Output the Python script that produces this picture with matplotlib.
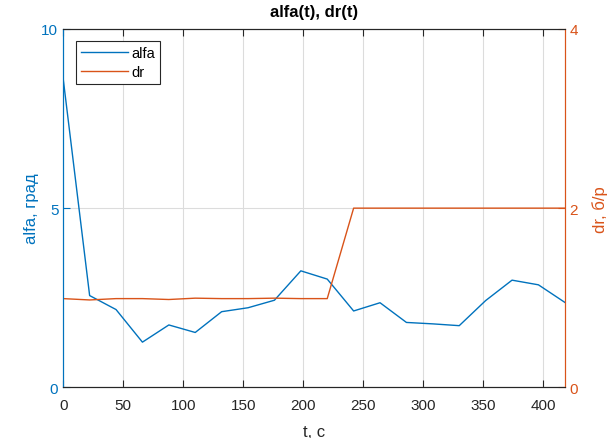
import numpy as np
import matplotlib
matplotlib.use("Agg")
import matplotlib.pyplot as plt

plt.rcParams['font.family'] = ['Liberation Sans', 'DejaVu Sans']

t = [0, 22, 44, 66, 88, 110, 132, 154, 176, 198, 220,
     242, 264, 286, 308, 330, 352, 374, 396, 418]
alfa = [8.6, 2.56, 2.17, 1.26, 1.74, 1.53, 2.11, 2.22, 2.43, 3.25, 3.02,
        2.13, 2.36, 1.81, 1.77, 1.72, 2.42, 2.99, 2.86, 2.37]
dr = [0.99, 0.975, 0.99, 0.99, 0.98, 0.995, 0.99, 0.99, 0.995, 0.99, 0.99,
      2, 2, 2, 2, 2, 2, 2, 2, 2]

blue = '#0072BD'
orange = '#D95319'
dark = '#262626'

fig = plt.figure(figsize=(6.08, 4.39), dpi=100)
ax = fig.add_axes([0.104, 0.1155, 0.825, 0.8162])
ax2 = ax.twinx()

l1, = ax.plot(t, alfa, color=blue, lw=1.0, label='alfa')
l2, = ax2.plot(t, dr, color=orange, lw=1.0, label='dr')

ax.set_xlim(0, 418)
ax.set_ylim(0, 10)
ax2.set_ylim(0, 4)
ax.set_xticks(np.arange(0, 401, 50))
ax.set_yticks([0, 5, 10])
ax2.set_yticks([0, 2, 4])

ax.grid(True, color='#dcdcdc', lw=0.8)
ax.set_axisbelow(True)

ax.tick_params(axis='x', direction='in', top=True, colors=dark, labelsize=11,
               length=5, pad=8)
ax.tick_params(axis='y', direction='in', colors=blue, labelsize=11, length=5)
ax2.tick_params(axis='y', direction='in', colors=orange, labelsize=11, length=5)

for a in (ax, ax2):
    a.spines['top'].set_color(dark)
    a.spines['bottom'].set_color(dark)
    a.spines['left'].set_color(blue)
    a.spines['right'].set_color(orange)

ax.set_xlabel('t, с', fontsize=12, color=dark, labelpad=8)
ax.set_ylabel('alfa, град', fontsize=12, color=blue, labelpad=2)
ax2.set_ylabel('dr, б/р', fontsize=12, color=orange, labelpad=10)
ax.set_title('alfa(t), dr(t)', fontsize=12, fontweight='bold', color='black', pad=9)

leg = ax2.legend([l1, l2], ['alfa', 'dr'], loc='upper left',
                 bbox_to_anchor=(0.025, 0.966), borderaxespad=0,
                 fontsize=10.5, fancybox=False,
                 framealpha=1, edgecolor=dark, borderpad=0.35,
                 handlelength=3.2, labelspacing=0.3, handletextpad=0.25)
leg.get_frame().set_linewidth(0.8)

fig.savefig('out.png', dpi=100)
